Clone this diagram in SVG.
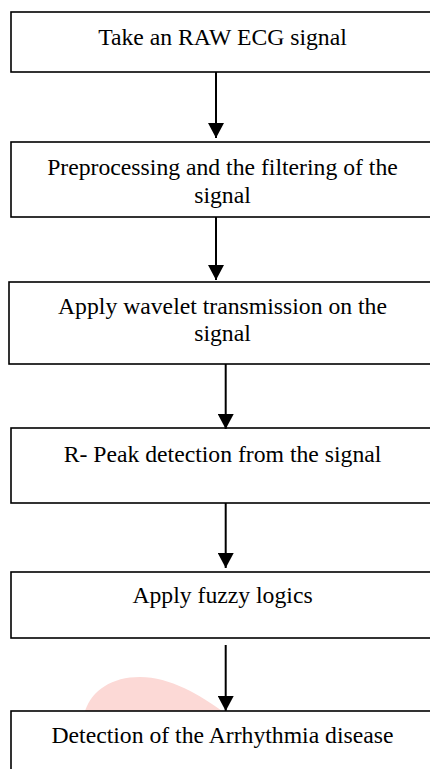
<svg xmlns="http://www.w3.org/2000/svg" width="430" height="769" viewBox="0 0 430 769">
<style>
.box{fill:#fff;stroke:#000;stroke-width:1.6}
.t{font-family:"Liberation Serif","Times New Roman",serif;font-size:23.7px;fill:#000;text-anchor:middle}
.c{stroke:#000;stroke-width:2;fill:none}
</style>
<defs>
<marker id="ah" markerUnits="userSpaceOnUse" markerWidth="15" markerHeight="16" refX="15" refY="8" orient="auto" viewBox="0 0 15 16">
<polygon points="0,0 15,8 0,16" fill="#000"/>
</marker>
</defs>
<rect width="430" height="769" fill="#fff"/>
<path d="M85,711 C92,690 112,677 140,677 C170,677 200,695 222,711 Z" fill="#fcd9d6"/>
<g id="n1"><rect class="box" x="11" y="12" width="423" height="60"/><text class="t" x="222.5" y="45">Take an RAW ECG signal</text></g>
<g id="n2"><rect class="box" x="11" y="142" width="423" height="75"/><text class="t" x="222.5" y="175">Preprocessing and the filtering of the</text><text class="t" x="222.5" y="202.7">signal</text></g>
<g id="n3"><rect class="box" x="9" y="282" width="425" height="82"/><text class="t" x="222.5" y="314.3">Apply wavelet transmission on the</text><text class="t" x="222.5" y="340.7">signal</text></g>
<g id="n4"><rect class="box" x="11" y="428" width="423" height="75"/><text class="t" x="222.5" y="461.7">R- Peak detection from the signal</text></g>
<g id="n5"><rect class="box" x="11" y="572" width="423" height="66"/><text class="t" x="222.5" y="603.3">Apply fuzzy logics</text></g>
<g id="n6"><rect class="box" x="11" y="711" width="423" height="70"/><text class="t" x="222.5" y="742.7">Detection of the Arrhythmia disease</text></g>
<g id="connectors">
<line class="c" x1="216" y1="72" x2="216" y2="138" marker-end="url(#ah)"/>
<line class="c" x1="216" y1="217" x2="216" y2="280" marker-end="url(#ah)"/>
<line class="c" x1="225.7" y1="364" x2="225.7" y2="429" marker-end="url(#ah)"/>
<line class="c" x1="225.7" y1="503" x2="225.7" y2="568" marker-end="url(#ah)"/>
<line class="c" x1="225.7" y1="645" x2="225.7" y2="711" marker-end="url(#ah)"/>
</g>
</svg>
